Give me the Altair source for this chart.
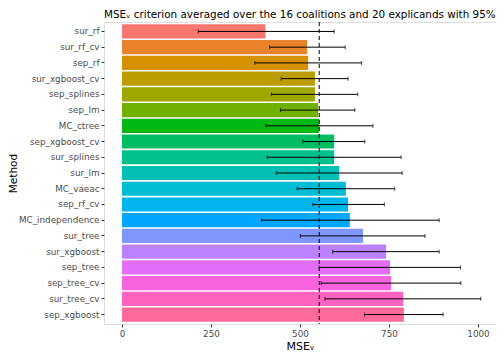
import math
import altair as alt
import pandas as pd

methods = ["sur_rf", "sur_rf_cv", "sep_rf", "sur_xgboost_cv", "sep_splines", "sep_lm",
           "MC_ctree", "sep_xgboost_cv", "sur_splines", "sur_lm", "MC_vaeac", "sep_rf_cv",
           "MC_independence", "sur_tree", "sur_xgboost", "sep_tree", "sep_tree_cv",
           "sur_tree_cv", "sep_xgboost"]
mse = [403, 520, 523, 542, 542, 551, 554, 596, 596, 610, 629, 635, 640, 677, 742, 753, 756, 790, 792]
ci_low = [214, 415, 373, 447, 420, 445, 404, 508, 408, 433, 492, 536, 392, 501, 592, 554, 559, 570, 681]
ci_high = [596, 627, 673, 635, 662, 654, 705, 682, 784, 787, 766, 737, 891, 851, 891, 951, 952, 1008, 902]
ref_line = [554]
x_ticks = [0, 250, 500, 750, 1000]
x_minor = [125, 375, 625, 875]


def hcl_hex(h, c=100.0, l=65.0):
    hr = math.radians(h)
    u = c * math.cos(hr)
    v = c * math.sin(hr)
    Xn, Yn, Zn = 95.047, 100.0, 108.883
    den = Xn + 15 * Yn + 3 * Zn
    un, vn = 4 * Xn / den, 9 * Yn / den
    Y = Yn * ((l + 16) / 116) ** 3
    uu = u / (13 * l) + un
    vv = v / (13 * l) + vn
    X = 9.0 * Y * uu / (4 * vv)
    Z = -X / 3 - 5 * Y + 3 * Y / vv
    X, Y, Z = X / 100, Y / 100, Z / 100
    r = 3.240479 * X - 1.537150 * Y - 0.498535 * Z
    g = -0.969256 * X + 1.875992 * Y + 0.041556 * Z
    b = 0.055648 * X - 0.204043 * Y + 1.057311 * Z

    def gam(t):
        t = 1.055 * t ** (1 / 2.4) - 0.055 if t > 0.0031308 else 12.92 * t
        return min(max(t, 0.0), 1.0)

    return "#%02X%02X%02X" % tuple(int(round(255 * gam(t))) for t in (r, g, b))


n = len(methods)
colors = [hcl_hex(15 + i * 360.0 / n) for i in range(n)]

df = pd.DataFrame({"Method": methods, "mse": mse, "lo": ci_low, "hi": ci_high})

W, H = 392, 302
xscale = alt.Scale(domain=[-50.6, 1050.6], nice=False, zero=False)
yscale = alt.Scale(domain=methods, paddingInner=0.1, paddingOuter=0.15)
FONT = "DejaVu Sans"

minor_df = pd.DataFrame({"x": x_minor})
minor = alt.Chart(minor_df).mark_rule(color="white", strokeWidth=0.5).encode(
    x=alt.X("x:Q", scale=xscale)
)

bars = alt.Chart(df).mark_bar().encode(
    x=alt.X("mse:Q", scale=xscale,
            axis=alt.Axis(values=x_ticks, format="d", title="MSEᵥ", grid=True,
                          gridColor="white", gridWidth=1, domain=False,
                          tickColor="#333333", tickSize=3,
                          labelColor="#4D4D4D", labelFontSize=8.8, labelFont=FONT,
                          labelPadding=2, titleFont=FONT, titleFontSize=11,
                          titleFontWeight="normal", titleColor="black", titlePadding=3)),
    y=alt.Y("Method:N", scale=yscale, sort=methods,
            axis=alt.Axis(title="Method", grid=True, gridColor="white", gridWidth=1,
                          bandPosition=0.5, domain=False, tickColor="#333333",
                          tickSize=3, labelColor="#4D4D4D", labelFontSize=8.8,
                          labelFont=FONT, labelPadding=2, titleFont=FONT,
                          titleFontSize=10.5, titleFontWeight="normal",
                          titleColor="black", titlePadding=0)),
    color=alt.Color("Method:N", scale=alt.Scale(domain=methods, range=colors), legend=None),
)

err = alt.Chart(df).mark_rule(color="black", strokeWidth=1).encode(
    x=alt.X("lo:Q", scale=xscale), x2="hi:Q",
    y=alt.Y("Method:N", scale=yscale, sort=methods),
)
cap_lo = alt.Chart(df).mark_tick(color="black", thickness=1, size=4, orient="vertical").encode(
    x=alt.X("lo:Q", scale=xscale), y=alt.Y("Method:N", scale=yscale, sort=methods),
)
cap_hi = alt.Chart(df).mark_tick(color="black", thickness=1, size=4, orient="vertical").encode(
    x=alt.X("hi:Q", scale=xscale), y=alt.Y("Method:N", scale=yscale, sort=methods),
)

ref = alt.Chart(pd.DataFrame({"x": ref_line})).mark_rule(
    color="black", strokeWidth=1, strokeDash=[4, 3]
).encode(x=alt.X("x:Q", scale=xscale))

chart = alt.layer(minor, bars, err, cap_lo, cap_hi, ref).properties(
    width=W, height=H,
    title=alt.TitleParams(
        "MSEᵥ criterion averaged over the 16 coalitions and 20 explicands with 95% CI",
        anchor="start", font=FONT, fontSize=10.4, fontWeight="normal", color="black",
        offset=1, frame="group"),
    autosize=alt.AutoSizeParams(type="none"),
    padding={"left": 96, "top": 14, "right": 0, "bottom": 40},
).configure_view(fill="#EBEBEB", stroke=None).configure(background="white")

chart.save("out.html", embed_options={"renderer": "svg", "actions": False})
